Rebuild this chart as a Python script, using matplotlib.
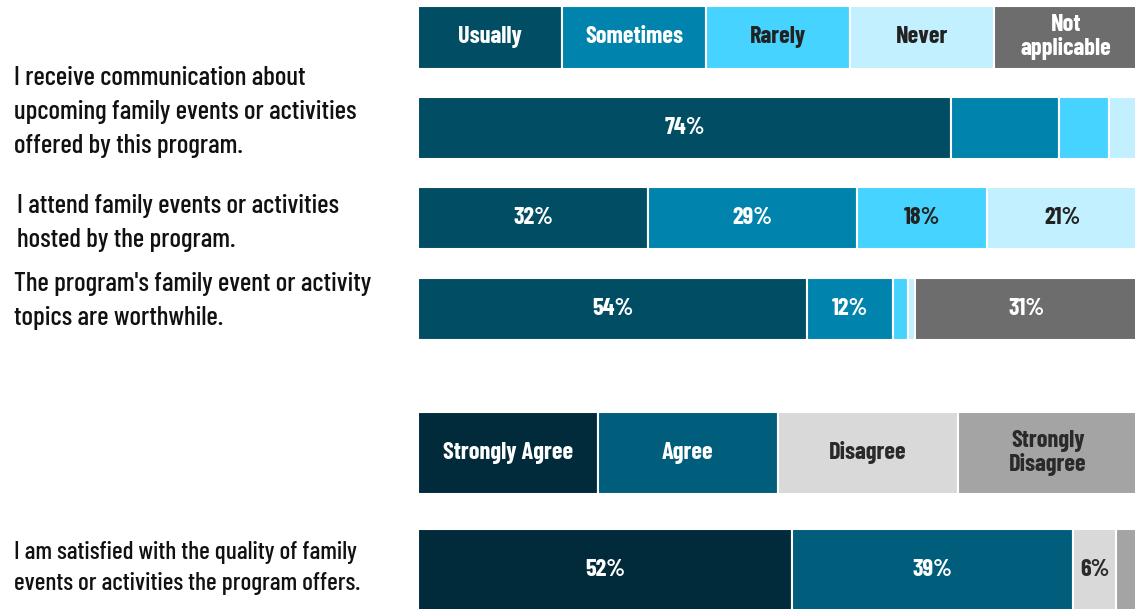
import matplotlib
matplotlib.use("Agg")
import matplotlib.pyplot as plt

FONT = ["Barlow Condensed", "Roboto Condensed", "Liberation Sans Narrow", "DejaVu Sans"]
plt.rcParams["font.family"] = FONT

# frequency block
freq_cats = ["Usually", "Sometimes", "Rarely", "Never", "Not\napplicable"]
freq_colors = ["#004d64", "#0083ac", "#47d3ff", "#c3f0fe", "#6d6d6d"]
freq_text = ["white", "white", "#222222", "#222222", "white"]
freq_questions = [
    "I receive communication about\nupcoming family events or activities\noffered by this program.",
    "I attend family events or activities\nhosted by the program.",
    "The program's family event or activity\ntopics are worthwhile.",
]
freq_values = [
    [74, 15, 7, 4, 0],
    [32, 29, 18, 21, 0],
    [54, 12, 2, 1, 31],
]
freq_labels = [
    ["74%", "", "", "", ""],
    ["32%", "29%", "18%", "21%", ""],
    ["54%", "12%", "", "", "31%"],
]

# agreement block
agree_cats = ["Strongly Agree", "Agree", "Disagree", "Strongly\nDisagree"]
agree_colors = ["#012b3b", "#005e7c", "#d9d9d9", "#a4a4a4"]
agree_text = ["white", "white", "#2a2a2a", "#2a2a2a"]
agree_questions = [
    "I am satisfied with the quality of family\nevents or activities the program offers.",
]
agree_values = [
    [52, 39, 6, 3],
]
agree_labels = [
    ["52%", "39%", "6%", ""],
]

W, H = 1135, 609
fig = plt.figure(figsize=(W / 100, H / 100), dpi=100)
ax = fig.add_axes([418 / W, 0, 720 / W, 1])
ax.set_xlim(0, 100)
ax.set_ylim(H, 0)
ax.axis("off")


def stacked(y, h, values, colors, labels, tcolors, fs=17.5):
    left = 0
    for v, c, lab, tc in zip(values, colors, labels, tcolors):
        if v > 0:
            ax.barh(y, v, left=left, height=h, color=c, edgecolor="white", linewidth=1.5)
            if lab:
                ax.text(left + v / 2, y, lab, ha="center", va="center", color=tc,
                        fontsize=fs, fontweight="bold", linespacing=1.05)
        left += v


# header rows: equal-width segments act as the legend
stacked(37, 63, [100 / len(freq_cats)] * len(freq_cats), freq_colors, freq_cats, freq_text)
stacked(453, 82, [100 / len(agree_cats)] * len(agree_cats), agree_colors, agree_cats, agree_text)

freq_y = [127.5, 217.5, 309]
freq_qpos = [(14, 112), (17, 223), (14, 301)]
for y, vals, labs, q, (qx, qy) in zip(freq_y, freq_values, freq_labels, freq_questions, freq_qpos):
    stacked(y, 62, vals, freq_colors, labs, freq_text)
    fig.text(qx / W, 1 - qy / H, q, ha="left", va="center", fontsize=19.5,
             fontweight="medium", linespacing=1.52, color="#111111")

agree_y = [570]
agree_qpos = [(14, 568)]
for y, vals, labs, q, (qx, qy) in zip(agree_y, agree_values, agree_labels, agree_questions, agree_qpos):
    stacked(y, 82, vals, agree_colors, labs, agree_text)
    fig.text(qx / W, 1 - qy / H, q, ha="left", va="center", fontsize=18.2,
             fontweight="medium", linespacing=1.46, color="#111111")

fig.savefig("out.png", dpi=100)
